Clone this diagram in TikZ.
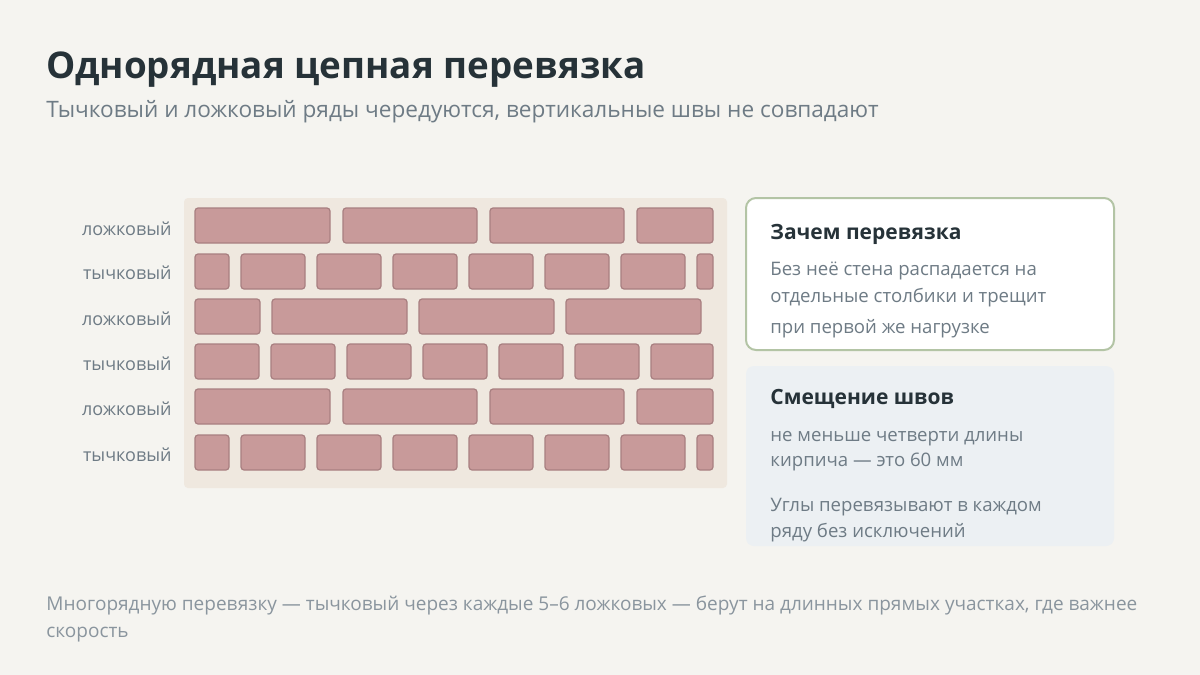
\documentclass[tikz,border=0pt]{standalone}
\usepackage{fontspec}
\setmainfont{Open Sans}
\usepackage{xcolor}
\usetikzlibrary{positioning}

\definecolor{pagebg}{HTML}{F5F4F0}
\definecolor{wallbg}{HTML}{EFE8DF}
\definecolor{brickfill}{HTML}{C89A9A}
\definecolor{brickline}{HTML}{A87F80}
\definecolor{inkdark}{HTML}{263238}
\definecolor{inkgray}{HTML}{6E7B85}
\definecolor{inklight}{HTML}{8A959E}
\definecolor{cardline}{HTML}{B3C4A5}
\definecolor{cardblue}{HTML}{ECF0F3}

\begin{document}
\begin{tikzpicture}[
    x=0.5pt, y=-0.5pt,
    brick/.style={draw=brickline, fill=brickfill, line width=0.6pt, rounded corners=1.5pt},
    rowlabel/.style={anchor=east, inner sep=0pt, text=inkgray, font=\fontsize{9}{11}\selectfont},
    cardtitle/.style={anchor=base west, inner sep=0pt, text=inkdark, font=\fontsize{10.5}{12}\selectfont\bfseries},
    cardtext/.style={anchor=base west, inner sep=0pt, text=inkgray, font=\fontsize{9.3}{11}\selectfont},
    foottext/.style={anchor=base west, inner sep=0pt, text=inklight, font=\fontsize{9.5}{11}\selectfont}
]
    % Background
    \fill[pagebg] (0,0) rectangle (1200,675);
    \useasboundingbox (0,0) rectangle (1200,675);

    % Heading
    \node[anchor=base west, inner sep=0pt, text=inkdark, font=\fontsize{18.4}{22}\selectfont\bfseries] (title) at (46,78) {Однорядная цепная перевязка};
    \node[anchor=base west, inner sep=0pt, text=inkgray, font=\fontsize{11.3}{13}\selectfont] (subtitle) at (46,117) {Тычковый и ложковый ряды чередуются, вертикальные швы не совпадают};

    % Wall
    \fill[wallbg, rounded corners=2pt] (184,198) rectangle (727,488);
    \foreach \t in {208,389}
        \foreach \a/\b in {195/330,343/477,490/624,637/713}
            \draw[brick] (\a,\t) rectangle (\b,\t+35);
    \foreach \a/\b in {195/260,272/407,419/554,566/701}
        \draw[brick] (\a,299) rectangle (\b,334);
    \foreach \t in {254,435}
        \foreach \a/\b in {195/229,241/305,317/381,393/457,469/533,545/609,621/685,697/713}
            \draw[brick] (\a,\t) rectangle (\b,\t+35);
    \foreach \a/\b in {195/259,271/335,347/411,423/487,499/563,575/639,651/713}
        \draw[brick] (\a,344) rectangle (\b,379);

    % Row labels
    \node[rowlabel] (row1) at (172,229) {ложковый};
    \node[rowlabel] (row2) at (172,273) {тычковый};
    \node[rowlabel] (row3) at (172,319) {ложковый};
    \node[rowlabel] (row4) at (172,364) {тычковый};
    \node[rowlabel] (row5) at (172,409) {ложковый};
    \node[rowlabel] (row6) at (172,455) {тычковый};

    % Cards
    \draw[cardline, fill=white, line width=1pt, rounded corners=5pt] (746,198) rectangle (1114,350);
    \node[cardtitle] (whyhead) at (770,239) {Зачем перевязка};
    \node[cardtext] (why1) at (770,275) {Без неё стена распадается на};
    \node[cardtext] (why2) at (770,302) {отдельные столбики и трещит};
    \node[cardtext] (why3) at (770,333) {при первой же нагрузке};

    \fill[cardblue, rounded corners=4pt] (746,366) rectangle (1114,546);
    \node[cardtitle] (shifthead) at (770,404) {Смещение швов};
    \node[cardtext] (shift1) at (770,441) {не меньше четверти длины};
    \node[cardtext] (shift2) at (770,466) {кирпича — это 60 мм};
    \node[cardtext] (shift3) at (770,511) {Углы перевязывают в каждом};
    \node[cardtext] (shift4) at (770,537) {ряду без исключений};

    % Footer
    \node[foottext] (foot1) at (46,610) {Многорядную перевязку — тычковый через каждые 5–6 ложковых — берут на длинных прямых участках, где важнее};
    \node[foottext] (foot2) at (46,637) {скорость};
\end{tikzpicture}
\end{document}
